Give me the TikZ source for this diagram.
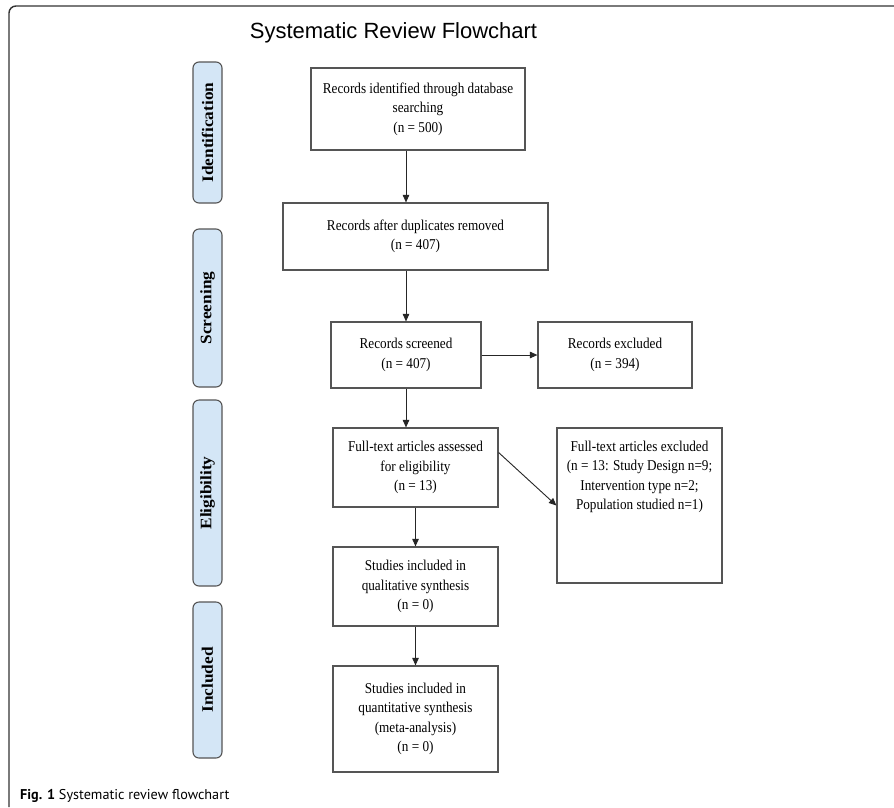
\documentclass[tikz,border=0pt]{standalone}
\usepackage{fontspec}
\setmainfont{Liberation Serif}
\newfontfamily\boxfont[FakeStretch=0.88]{Liberation Serif}
\newfontfamily\labfont[FakeStretch=1.08]{Liberation Serif}
\newfontfamily\titlefont{Liberation Sans}
\newfontfamily\capfont{PT Sans}
\usetikzlibrary{arrows.meta,calc}
\definecolor{phaseblue}{RGB}{212,230,246}
\definecolor{boxgray}{RGB}{85,85,85}
\tikzset{
 flowbox/.style={draw=boxgray, line width=1.2pt, align=center, inner sep=2pt, font=\boxfont\fontsize{15}{19.5}\selectfont},
 flowtext/.style={align=center, inner sep=0pt, font=\boxfont\fontsize{15}{19.5}\selectfont},
 phase/.style={draw=boxgray, fill=phaseblue, line width=1.1pt, rounded corners=6pt, rotate=90, minimum height=29pt, inner sep=0pt, font=\labfont\bfseries\fontsize{16}{18}\selectfont},
 arr/.style={draw=black!85, line width=0.9pt, -{Triangle[length=7.5pt,width=6.5pt]}},
}
\begin{document}
\begin{tikzpicture}[x=1pt,y=-1pt]
\useasboundingbox (0,0) rectangle (894,807);
\fill[white] (0,0) rectangle (894,807);
% frame
\draw[line width=1.4pt, black!80, rounded corners=7pt] (9,807) -- (9,6) -- (900,6);
% title
\node[font=\titlefont\fontsize{22}{26}\selectfont, anchor=base, inner sep=0pt] (title) at (393.5,38) {Systematic Review Flowchart};
% phases
\node[phase, minimum width=141pt] (p1) at (207.5,132.5) {Identification};
\node[phase, minimum width=158pt] (p2) at (207.5,308) {Screening};
\node[phase, minimum width=186pt] (p3) at (207.5,493) {Eligibility};
\node[phase, minimum width=156pt] (p4) at (207.5,680) {Included};
% boxes
\node[flowbox, minimum width=214pt, minimum height=82pt] (b1) at (418,109) {Records identified through database\\searching\\(n = 500)};
\node[flowbox, minimum width=265pt, minimum height=67pt] (b2) at (415.5,236.5) {Records after duplicates removed\\(n = 407)};
\node[flowbox, minimum width=150pt, minimum height=66pt] (b3) at (406,355) {Records screened\\(n = 407)};
\node[flowbox, minimum width=154pt, minimum height=66pt] (b4) at (615,355) {Records excluded\\(n = 394)};
\node[flowbox, minimum width=165pt, minimum height=79pt] (b5) at (415.5,467.5) {Full-text articles assessed\\for eligibility\\(n = 13)};
\node[flowbox, minimum width=165pt, minimum height=155pt] (b6) at (639.5,505.5) {};
\node[flowtext, anchor=north] (b6t) at ($(b6.north)+(0,13)$) {Full-text articles excluded\\(n = 13: Study Design n=9;\\Intervention type n=2;\\Population studied n=1)};
\node[flowbox, minimum width=165pt, minimum height=79pt] (b7) at (415.5,586.5) {Studies included in\\qualitative synthesis\\(n = 0)};
\node[flowbox, minimum width=165pt, minimum height=106pt] (b8) at (415.5,719) {Studies included in\\quantitative synthesis\\(meta-analysis)\\(n = 0)};
% arrows
\draw[arr] (b1.south -| b3.north) -- (b2.north -| b3.north);
\draw[arr] (b2.south -| b3.north) -- (b3.north);
\draw[arr] (b3.east) -- (b4.west);
\draw[arr] (b3.south) -- (b3.south |- b5.north);
\draw[arr] ($(b5.east)+(0,-15)$) -- (b6.west);
\draw[arr] (b5.south) -- (b7.north);
\draw[arr] (b7.south) -- (b8.north);
% caption
\node[anchor=base west, inner sep=0pt, font=\capfont\fontsize{14.2}{16}\selectfont] (cap) at (20,799) {\textbf{Fig. 1} Systematic review flowchart};
\end{tikzpicture}
\end{document}
